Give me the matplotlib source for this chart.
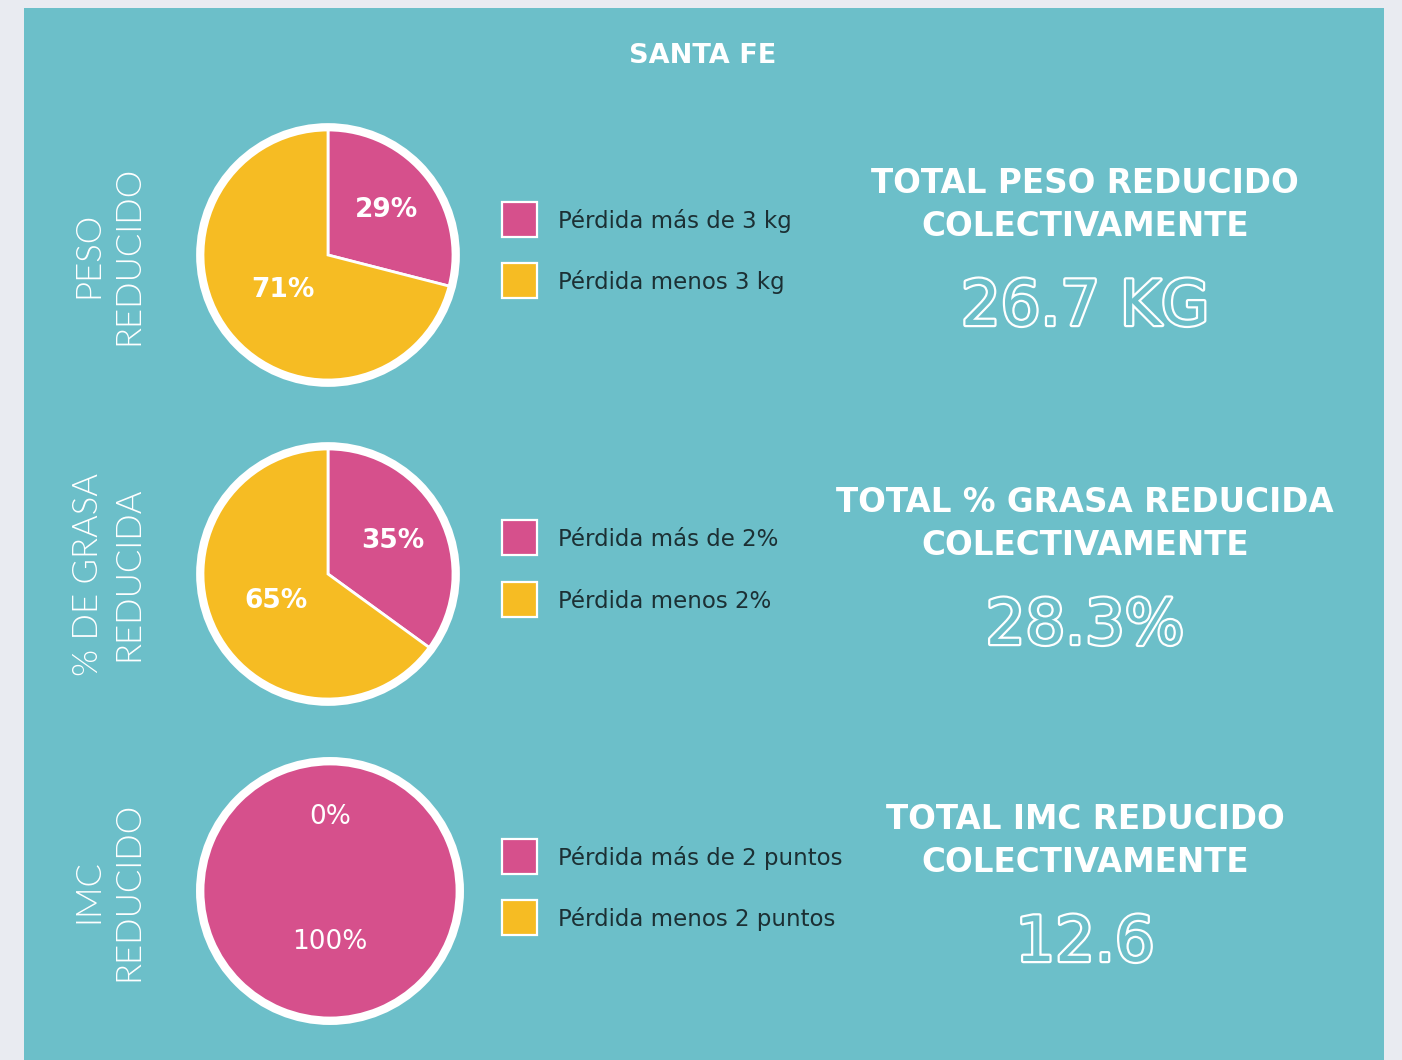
import numpy as np
import matplotlib.pyplot as plt
import matplotlib.patheffects as pe
from matplotlib.patches import Rectangle, Circle

# data
title = 'SANTA FE'
side_labels = ['PESO\nREDUCIDO', '% DE GRASA\nREDUCIDA', 'IMC\nREDUCIDO']
pct_mas = [29, 35, 0]
pct_menos = [71, 65, 100]
legend_labels = [
    ['Pérdida más de 3 kg', 'Pérdida menos 3 kg'],
    ['Pérdida más de 2%', 'Pérdida menos 2%'],
    ['Pérdida más de 2 puntos', 'Pérdida menos 2 puntos'],
]
totals_title = [
    'TOTAL PESO REDUCIDO\nCOLECTIVAMENTE',
    'TOTAL % GRASA REDUCIDA\nCOLECTIVAMENTE',
    'TOTAL IMC REDUCIDO\nCOLECTIVAMENTE',
]
totals_value = ['26.7 KG', '28.3%', '12.6']

PINK = '#d6508c'
YELLOW = '#f6bc23'
TEAL = '#6cbfc9'
BG = '#e9ebf1'
DARK = '#1c3034'

W, H = 1402, 1060


def fx(x):
    return x / W


def fy(y):
    return 1 - y / H


fig = plt.figure(figsize=(W / 100, H / 100), dpi=100)
fig.patch.set_facecolor(BG)
fig.patches.append(Rectangle((fx(24), 0), fx(1384) - fx(24), fy(8), transform=fig.transFigure,
                             facecolor=TEAL, edgecolor='none', zorder=-5))

fig.text(fx(703), fy(56), title, ha='center', va='center', color='white',
         fontsize=19.5, fontweight='bold')

centers = [(328, 255), (328, 574), (330, 891)]
radius_px = [125, 125, 127]
pie_colors = [[PINK, YELLOW], [PINK, YELLOW], [YELLOW, PINK]]  # last pie is drawn all pink in the original
pct_dist = [[0.59, 0.46], [0.58, 0.47], [0.58, 0.40]]
label_weight = ['bold', 'bold', 'normal']
legend_rows = [(220, 281), (538, 600), (857, 918)]
lim = 1.12

for i, (cx, cy) in enumerate(centers):
    size = 2 * lim * radius_px[i]
    ax = fig.add_axes([fx(cx - size / 2), fy(cy + size / 2), size / W, size / H])
    ax.add_patch(Circle((0, 0), 1.055, facecolor='white', edgecolor='none', zorder=0))
    vals = [pct_mas[i], pct_menos[i]]
    wedges, _ = ax.pie(vals, colors=pie_colors[i], startangle=90, counterclock=False,
                       radius=1, wedgeprops=dict(edgecolor='white', linewidth=2))
    ax.set_xlim(-lim, lim)
    ax.set_ylim(-lim, lim)
    ax.set_aspect('equal')
    ax.axis('off')
    for w in wedges:
        w.set_zorder(1)
    for j, (w, v) in enumerate(zip(wedges, vals)):
        ang = np.deg2rad((w.theta1 + w.theta2) / 2)
        d = pct_dist[i][j]
        ax.text(d * np.cos(ang), d * np.sin(ang), f'{v}%', ha='center', va='center',
                color='white', fontsize=19, fontweight=label_weight[i], zorder=3)

    # legend
    for row_y, col, lab in zip(legend_rows[i], [PINK, YELLOW], legend_labels[i]):
        fig.patches.append(Rectangle((fx(502), fy(row_y + 17)), 35 / W, 35 / H,
                                     transform=fig.transFigure, facecolor=col,
                                     edgecolor='white', linewidth=1.6, zorder=2))
        fig.text(fx(558), fy(row_y + 1), lab, ha='left', va='center', color=DARK, fontsize=16.5)

    # side label
    lines = side_labels[i].split('\n')
    fig.text(fx(88), fy(cy), lines[0], rotation=90, ha='center', va='center', color='white',
             fontsize=25, family='Lato', fontweight=300)
    fig.text(fx(128), fy(cy), lines[1], rotation=90, ha='center', va='center', color='white',
             fontsize=25, family='Lato', fontweight=300)

    # totals
    fig.text(fx(1085), fy(cy - 50), totals_title[i], ha='center', va='center', color='white',
             fontsize=23.5, fontweight='bold', linespacing=1.38)
    fig.text(fx(1085), fy(cy + 53), totals_value[i], ha='center', va='center', color=TEAL,
             fontsize=45, path_effects=[pe.Stroke(linewidth=3.2, foreground='white'), pe.Normal()])

fig.savefig('out.png', dpi=100, facecolor=BG)
